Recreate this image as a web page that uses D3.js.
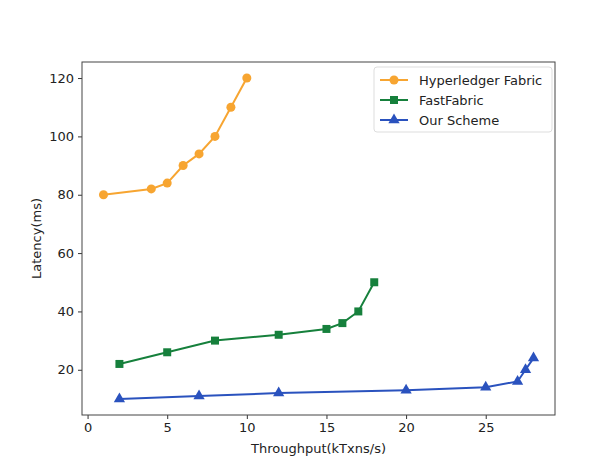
<!DOCTYPE html>
<html>
<head>
<meta charset="utf-8">
<script src="https://cdn.jsdelivr.net/npm/d3@7"></script>
<style>
  body { margin: 0; background: #fff; }
  text { font-family: "DejaVu Sans", sans-serif; fill: #222; }
</style>
</head>
<body>
<div id="chart"></div>
<script>
// series data
var hfX = [1, 4, 5, 6, 7, 8, 9, 10];
var hfY = [80, 82, 84, 90, 94, 100, 110, 120];
var ffX = [2, 5, 8, 12, 15, 16, 17, 18];
var ffY = [22, 26, 30, 32, 34, 36, 40, 50];
var osX = [2, 7, 12, 20, 25, 27, 27.5, 28];
var osY = [10, 11, 12, 13, 14, 16, 20, 24];
var xTicks = [0, 5, 10, 15, 20, 25];
var yTicks = [20, 40, 60, 80, 100, 120];

var series = [
  { name: "Hyperledger Fabric", xs: hfX, ys: hfY, color: "#f7a531", shape: d3.symbolCircle },
  { name: "FastFabric", xs: ffX, ys: ffY, color: "#16803c", shape: d3.symbolSquare },
  { name: "Our Scheme", xs: osX, ys: osY, color: "#2a52be", shape: d3.symbolTriangle }
];

var width = 609, height = 461;
var margin = {top: 62, right: 54, bottom: 46, left: 82};
var w = width - margin.left - margin.right,
    h = height - margin.top - margin.bottom;
var fs = "13px";

var svg = d3.select("#chart").append("svg")
    .attr("width", width)
    .attr("height", height);

var g = svg.append("g")
    .attr("transform", "translate(" + margin.left + "," + margin.top + ")");

// matplotlib-like 5% margins around data
var x = d3.scaleLinear().domain([-0.35, 29.35]).range([0, w]);
var y = d3.scaleLinear().domain([4.5, 125.5]).range([h, 0]);

var xAxis = g.append("g")
    .attr("transform", "translate(0," + h + ")")
    .call(d3.axisBottom(x).tickValues(xTicks).tickSize(4).tickPadding(4));
var yAxis = g.append("g")
    .call(d3.axisLeft(y).tickValues(yTicks).tickSize(4).tickPadding(4));
[xAxis, yAxis].forEach(function(a) {
  a.select(".domain").remove();
  a.selectAll("line").attr("stroke", "#333");
  a.selectAll("text").style("font-size", fs).style("font-family", "DejaVu Sans").attr("fill", "#222");
});

// frame
g.append("rect")
    .attr("width", w).attr("height", h)
    .attr("fill", "none").attr("stroke", "#444").attr("stroke-width", 1);

var line = d3.line().x(d => x(d[0])).y(d => y(d[1]));
var symSize = s => s.shape === d3.symbolTriangle ? 55 : 64;

series.forEach(function(s) {
  var pts = s.xs.map((v, i) => [v, s.ys[i]]);
  g.append("path")
      .datum(pts)
      .attr("d", line)
      .attr("fill", "none")
      .attr("stroke", s.color)
      .attr("stroke-width", 2);
  g.selectAll(null)
      .data(pts)
      .enter().append("path")
      .attr("transform", d => "translate(" + x(d[0]) + "," + y(d[1]) + ")")
      .attr("d", d3.symbol().type(s.shape).size(symSize(s)))
      .attr("fill", s.color);
});

// axis labels
svg.append("text")
    .attr("x", margin.left + x(14.5)).attr("y", 453)
    .attr("text-anchor", "middle")
    .style("font-size", fs)
    .text("Throughput(kTxns/s)");
svg.append("text")
    .attr("transform", "translate(41," + (margin.top + h / 2) + ") rotate(-90)")
    .attr("text-anchor", "middle")
    .style("font-size", fs)
    .text("Latency(ms)");

// legend
var lg = svg.append("g").attr("transform", "translate(374,67)");
lg.append("rect")
    .attr("width", 178).attr("height", 65).attr("rx", 3)
    .attr("fill", "#fff").attr("stroke", "#ddd");
series.forEach(function(s, i) {
  var yy = 13 + i * 20;
  lg.append("line")
      .attr("x1", 6).attr("x2", 34).attr("y1", yy).attr("y2", yy)
      .attr("stroke", s.color).attr("stroke-width", 2);
  lg.append("path")
      .attr("transform", "translate(20," + yy + ")")
      .attr("d", d3.symbol().type(s.shape).size(symSize(s)))
      .attr("fill", s.color);
  lg.append("text")
      .attr("x", 45).attr("y", yy + 5)
      .style("font-size", fs)
      .text(s.name);
});
</script>
</body>
</html>
